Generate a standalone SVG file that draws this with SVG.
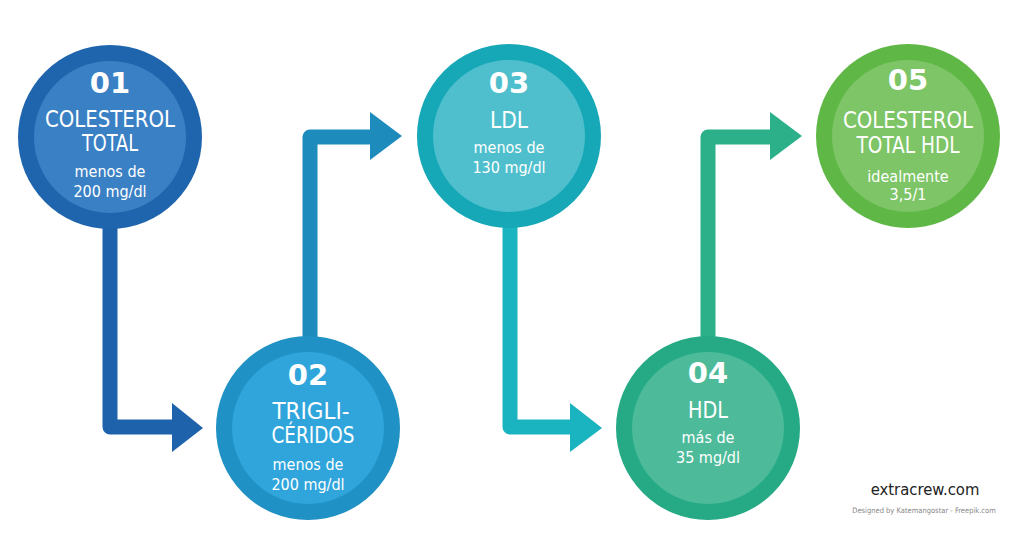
<svg xmlns="http://www.w3.org/2000/svg" width="1024" height="557" viewBox="0 0 1024 557">
<style>
.num{font-family:"DejaVu Sans",sans-serif;font-weight:bold;font-size:29px;fill:#fff;text-anchor:middle}
.ttl{font-family:"DejaVu Sans",sans-serif;font-stretch:condensed;font-size:23px;fill:#fff;text-anchor:middle}
.sub{font-family:"DejaVu Sans",sans-serif;font-stretch:condensed;font-size:16px;fill:#fff;text-anchor:middle}
.ln{fill:none;stroke-width:15;stroke-linejoin:round}
</style>
<rect width="1024" height="557" fill="#fff"/>
<g id="connectors">
<path class="ln" stroke="#1e62ab" d="M110 200 V427 H176"/>
<polygon fill="#1e62ab" points="172,403 203,428 172,452"/>
<path class="ln" stroke="#1e8bbd" d="M310 360 V137 H374"/>
<polygon fill="#1e8bbd" points="370,112 402,136 370,160"/>
<path class="ln" stroke="#1ab4c0" d="M510 200 V427 H574"/>
<polygon fill="#1ab4c0" points="570,403 602,428 570,452"/>
<path class="ln" stroke="#2bb089" d="M708 360 V137 H774"/>
<polygon fill="#2bb089" points="770,112 802,136 770,160"/>
</g>
<g id="node1">
<circle cx="110" cy="137" r="92" fill="#1f65ad"/>
<circle cx="110" cy="137" r="76" fill="#3a80c4"/>
<text class="num" x="110" y="93">01</text>
<text class="ttl" x="110" y="127" textLength="130" lengthAdjust="spacingAndGlyphs">COLESTEROL</text>
<text class="ttl" x="110" y="151" textLength="56" lengthAdjust="spacingAndGlyphs">TOTAL</text>
<text class="sub" x="110" y="177">menos de</text>
<text class="sub" x="110" y="197">200 mg/dl</text>
</g>
<g id="node2">
<circle cx="308" cy="428" r="92" fill="#1f91c4"/>
<circle cx="308" cy="428" r="76" fill="#2fa5dc"/>
<text class="num" x="308" y="385">02</text>
<text class="ttl" x="311" y="419" textLength="77" lengthAdjust="spacingAndGlyphs">TRIGLI-</text>
<text class="ttl" x="313" y="443" textLength="83" lengthAdjust="spacingAndGlyphs">CÉRIDOS</text>
<text class="sub" x="308" y="470">menos de</text>
<text class="sub" x="308" y="490">200 mg/dl</text>
</g>
<g id="node3">
<circle cx="509" cy="136" r="92" fill="#17a8b8"/>
<circle cx="509" cy="136" r="76" fill="#4fbfcd"/>
<text class="num" x="509" y="93">03</text>
<text class="ttl" x="509" y="128" textLength="38" lengthAdjust="spacingAndGlyphs">LDL</text>
<text class="sub" x="509" y="153">menos de</text>
<text class="sub" x="509" y="173">130 mg/dl</text>
</g>
<g id="node4">
<circle cx="708" cy="428" r="92" fill="#26aa86"/>
<circle cx="708" cy="428" r="76" fill="#4dbb9a"/>
<text class="num" x="708" y="383">04</text>
<text class="ttl" x="708" y="418" textLength="40" lengthAdjust="spacingAndGlyphs">HDL</text>
<text class="sub" x="708" y="443">más de</text>
<text class="sub" x="708" y="463">35 mg/dl</text>
</g>
<g id="node5">
<circle cx="908" cy="136" r="92" fill="#5fb846"/>
<circle cx="908" cy="136" r="76" fill="#7dc566"/>
<text class="num" x="908" y="90">05</text>
<text class="ttl" x="908" y="128" textLength="130" lengthAdjust="spacingAndGlyphs">COLESTEROL</text>
<text class="ttl" x="908" y="153" textLength="103" lengthAdjust="spacingAndGlyphs">TOTAL HDL</text>
<text class="sub" x="908" y="182">idealmente</text>
<text class="sub" x="908" y="200">3,5/1</text>
</g>
<g id="footer">
<text x="925" y="495" font-family="DejaVu Sans,sans-serif" font-stretch="condensed" font-size="16.5" fill="#222" text-anchor="middle">extracrew.com</text>
<text x="924" y="513" font-family="DejaVu Sans,sans-serif" font-stretch="condensed" font-size="7.5" fill="#888" text-anchor="middle">Designed by Katemangostar - Freepik.com</text>
</g>
</svg>
